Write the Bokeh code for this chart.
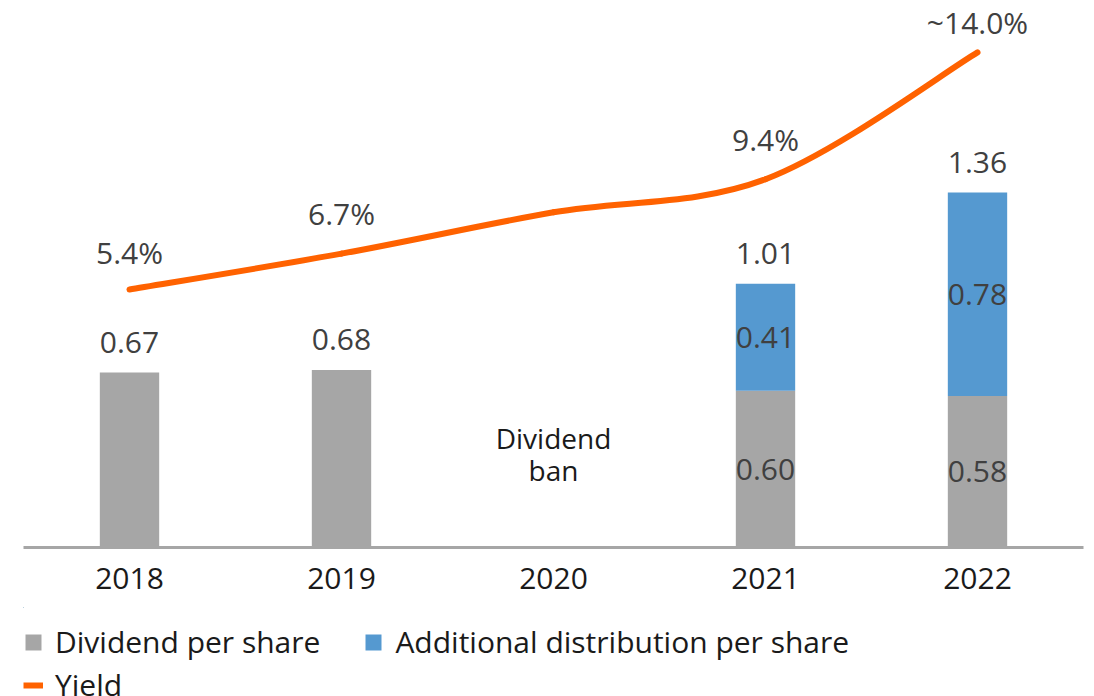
from bokeh.plotting import figure
from bokeh.layouts import column
from bokeh.models import (ColumnDataSource, Range1d, LabelSet, Label, Legend,
                          LegendItem, FixedTicker)
from bokeh.core.properties import value
from bokeh.embed import file_html
from bokeh.resources import INLINE

# ---- data ----
years = ["2018", "2019", "2020", "2021", "2022"]
dividend = [0.67, 0.68, 0.0, 0.60, 0.58]
additional = [0.0, 0.0, 0.0, 0.41, 0.78]
total_labels = ["0.67", "0.68", "", "1.01", "1.36"]
yield_pct = [5.4, 6.7, 8.2, 9.4, 14.0]
yield_labels = ["5.4%", "6.7%", "", "9.4%", "~14.0%"]
ban_text = ["Dividend", "ban"]
legend_labels = ["Dividend per share", "Additional distribution per share", "Yield"]

# ---- style ----
FONT = "Open Sans"
FS = "30px"
GRAY = "#a6a6a6"
BLUE = "#5599d0"
ORANGE = "#ff6200"
LABEL_COLOR = "#404040"
TEXT_COLOR = "#1a1a1a"
BAR_W = 0.28
yield_label_offsets = [37, 40, 0, 40, 30]

xs = [i + 0.5 for i in range(len(years))]
totals = [d + a for d, a in zip(dividend, additional)]

p = figure(frame_width=1060, frame_height=537, output_backend="svg",
           toolbar_location=None, y_axis_location=None,
           x_range=Range1d(0, len(years)), y_range=Range1d(0, 2.057),
           min_border_left=23, min_border_right=3, min_border_top=10,
           min_border_bottom=60)
p.extra_y_ranges = {"yield": Range1d(-3.96, 15.52)}
p.outline_line_color = None
p.grid.visible = False

src = ColumnDataSource(dict(x=xs, div=dividend, tot=totals,
                            tot_lab=total_labels,
                            div_mid=[d / 2 for d in dividend],
                            add_mid=[d + a / 2 for d, a in zip(dividend, additional)],
                            div_in=[f"{d:.2f}" if a > 0 else "" for d, a in zip(dividend, additional)],
                            add_in=[f"{a:.2f}" if a > 0 else "" for a in additional],
                            yv=yield_pct, ylab=yield_labels,
                            yoff=yield_label_offsets))

bar_div = dict(x="x", top="div", width=BAR_W, fill_color=GRAY, line_color=None, source=src)
bar_add = dict(x="x", bottom="div", top="tot", width=BAR_W, fill_color=BLUE,
               line_color=None, source=src)
p.vbar(**bar_div)
p.vbar(**bar_add)

# smoothed yield line (cubic Bezier segments through the data points)
x0, y0, x1, y1, cx0, cy0, cx1, cy1 = [], [], [], [], [], [], [], []
n = len(xs)
for i in range(n - 1):
    pa = (xs[max(i - 1, 0)], yield_pct[max(i - 1, 0)])
    p1 = (xs[i], yield_pct[i])
    p2_ = (xs[i + 1], yield_pct[i + 1])
    pb = (xs[min(i + 2, n - 1)], yield_pct[min(i + 2, n - 1)])
    x0.append(p1[0]); y0.append(p1[1]); x1.append(p2_[0]); y1.append(p2_[1])
    cx0.append(p1[0] + (p2_[0] - pa[0]) / 6); cy0.append(p1[1] + (p2_[1] - pa[1]) / 6)
    cx1.append(p2_[0] - (pb[0] - p1[0]) / 6); cy1.append(p2_[1] - (pb[1] - p1[1]) / 6)
p.bezier(x0=x0, y0=y0, x1=x1, y1=y1, cx0=cx0, cy0=cy0, cx1=cx1, cy1=cy1,
         y_range_name="yield", line_color=ORANGE, line_width=6, line_cap="round")

common = dict(text_font=value(FONT), text_font_size=value(FS), text_align="center",
              text_baseline="middle", text_color=LABEL_COLOR, source=src)
p.add_layout(LabelSet(x="x", y="tot", text="tot_lab", y_offset=30, **common))
p.add_layout(LabelSet(x="x", y="div_mid", text="div_in", **common))
p.add_layout(LabelSet(x="x", y="add_mid", text="add_in", **common))
p.add_layout(LabelSet(x="x", y="yv", text="ylab", y_offset="yoff",
                      y_range_name="yield", **common))

# dividend ban note
for k, t in enumerate(ban_text):
    p.add_layout(Label(x=xs[2], y=0.42 - 0.125 * k, text=t, text_font=FONT,
                       text_font_size="28px", text_align="center",
                       text_baseline="middle", text_color=TEXT_COLOR))

# x axis
p.xaxis.ticker = FixedTicker(ticks=xs)
p.xaxis.major_label_overrides = {x: y for x, y in zip(xs, years)}
p.xaxis.axis_line_color = GRAY
p.xaxis.axis_line_width = 3
p.xaxis.major_tick_line_color = None
p.xaxis.minor_tick_line_color = None
p.xaxis.major_label_text_font = FONT
p.xaxis.major_label_text_font_size = FS
p.xaxis.major_label_text_color = TEXT_COLOR
p.xaxis.major_label_standoff = 14

# ---- legend strip (separate figure under the chart; its ranges keep the
# series entirely out of view so only the legend shows) ----
lg = figure(width=1086, height=89, output_backend="svg", toolbar_location=None,
            x_axis_location=None, y_axis_location=None,
            x_range=Range1d(100, 101), y_range=Range1d(-200, -199),
            min_border_left=0, min_border_right=0, min_border_top=0,
            min_border_bottom=0)
lg.outline_line_color = None
lg.grid.visible = False
lr_div = lg.vbar(**bar_div)
lr_add = lg.vbar(**bar_add)
lr_yld = lg.line(x="x", y="yv", source=src, line_color=ORANGE, line_width=6)

leg_style = dict(orientation="horizontal",
                 border_line_color=None, background_fill_alpha=0,
                 label_text_font=FONT, label_text_font_size=FS,
                 label_text_color=TEXT_COLOR, glyph_width=20, glyph_height=20,
                 label_height=30, label_standoff=12, spacing=43, padding=0, margin=0)
leg1 = Legend(items=[LegendItem(label=legend_labels[0], renderers=[lr_div]),
                     LegendItem(label=legend_labels[1], renderers=[lr_add])],
              location=(0, 34), **leg_style)
leg2 = Legend(items=[LegendItem(label=legend_labels[2], renderers=[lr_yld])],
              location=(0, -9), **leg_style)
lg.add_layout(leg1, "center")
lg.add_layout(leg2, "center")

layout = column(p, lg, spacing=0)
open("out.html", "w").write(file_html(layout, INLINE))
